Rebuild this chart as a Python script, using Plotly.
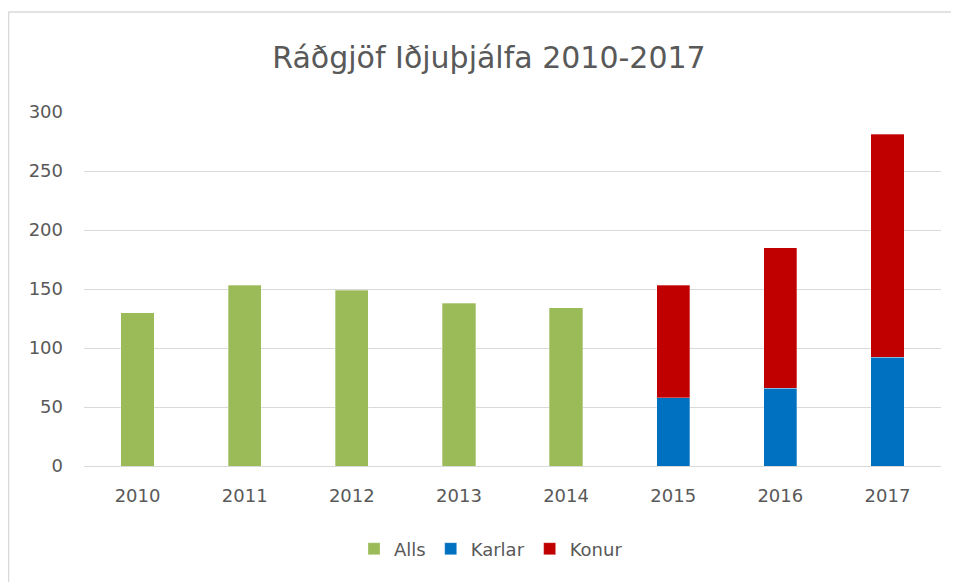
import plotly.graph_objects as go

years = ["2010", "2011", "2012", "2013", "2014", "2015", "2016", "2017"]
alls = [130, 153, 149, 138, 134, None, None, None]
karlar = [None, None, None, None, None, 58, 66, 92]
konur = [None, None, None, None, None, 95, 119, 189]
y_ticks = [0, 50, 100, 150, 200, 250, 300]

title_text = "Ráðgjöf Iðjuþjálfa 2010-2017"
font_family = "DejaVu Sans, sans-serif"
text_color = "#595959"
grid_color = "#D9D9D9"

# page has an 8px body margin, so the figure is smaller than the window
W, H = 951, 574
L, R, T, B = 76, 18, 104, 116
PW, PH = W - L - R, H - T - B

fig = go.Figure()
for name, vals, col in [("Alls", alls, "#9BBB59"), ("Karlar", karlar, "#0070C0"), ("Konur", konur, "#C00000")]:
    fig.add_trace(go.Bar(
        x=years, y=vals, name=name, width=0.31,
        marker=dict(color=col, line=dict(color="rgba(255,255,255,0.6)", width=0.5)),
    ))

bx = (0.5 - L) / PW
by = 1 + (T - 4) / PH
fig.update_layout(
    barmode="stack",
    width=W, height=H,
    paper_bgcolor="white", plot_bgcolor="white",
    margin=dict(l=L, r=R, t=T, b=B),
    title=dict(text=title_text, xref="paper", x=(481 - L) / PW, xanchor="center",
               y=1 - 49 / H, yanchor="middle",
               font=dict(family=font_family, size=30, color=text_color)),
    font=dict(family=font_family, size=18, color=text_color),
    legend=dict(orientation="h", x=(483 - L) / PW, xanchor="center", y=-83 / PH, yanchor="middle",
                font=dict(size=18, color=text_color), traceorder="normal"),
    showlegend=True,
    shapes=[
        dict(type="line", xref="paper", yref="paper", x0=bx, x1=bx, y0=-B / PH - 0.1, y1=by,
             line=dict(color="#D9D9D9", width=1.5), layer="below"),
        dict(type="line", xref="paper", yref="paper", x0=bx, x1=1 + R / PW + 0.1, y0=by, y1=by,
             line=dict(color="#D9D9D9", width=1.5), layer="below"),
    ],
)
fig.update_xaxes(showgrid=False, showline=True, linecolor=grid_color, linewidth=1,
                 ticks="", tickfont=dict(size=18, color=text_color), ticklabelstandoff=13)
fig.update_yaxes(range=[0, 300], tickvals=y_ticks, showgrid=True, gridcolor=grid_color, gridwidth=1,
                 zeroline=False, showline=False, ticks="", tickfont=dict(size=18, color=text_color),
                 ticklabelstandoff=20)

fig.write_html("out.html", config={"displayModeBar": False})
